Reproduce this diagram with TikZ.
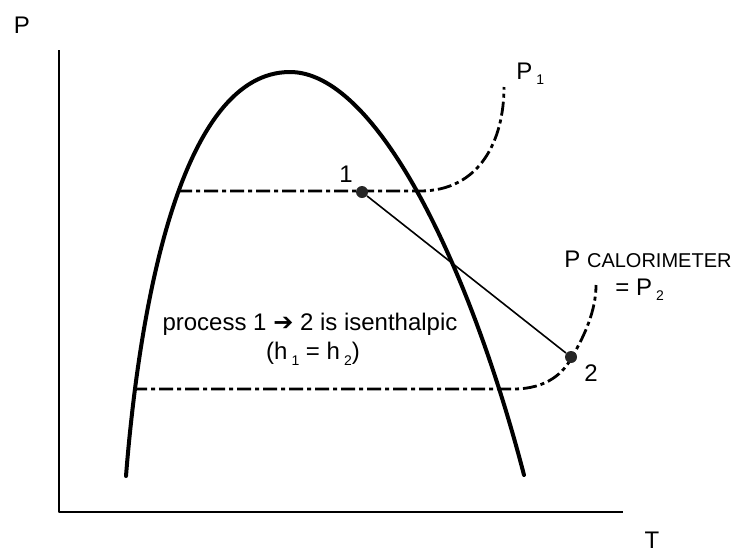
\documentclass[tikz,border=0pt]{standalone}
\usepackage{fontspec}
\setmainfont{Liberation Sans}
\newfontfamily\arrowfont{DejaVu Sans}
\newcommand{\lowsub}[1]{\,\raisebox{-0.45ex}{\fontsize{7}{8}\selectfont #1}}
\begin{document}
\begin{tikzpicture}[x=0.5pt,y=-0.5pt,font=\fontsize{12}{14}\selectfont, line join=round,
	isobar/.style={line width=1.4pt,dash pattern=on 7pt off 2pt on 2pt off 2pt},
	dot/.style={circle,fill=black!85,inner sep=0pt,minimum size=6pt},
	lbl/.style={inner sep=0pt}]
	\useasboundingbox (0,0) rectangle (737,552);
	% axes
	\draw[line width=1.2pt] (59,50)--(59,512)--(623,512);
	\node[lbl] (Plab) at (22,25) {P};
	\node[lbl] (Tlab) at (652,540) {T};
	% saturation dome
	\draw[line width=2pt,line cap=round] (126,476) .. controls (140,300) and (182,72) .. (290,72)
		.. controls (375,72) and (468,260) .. (524,475);
	% isobars
	\draw[isobar] (178,191)--(420,191) .. controls (480,191) and (504,140) .. (504,87);
	\draw[isobar] (133,389)--(513,389) .. controls (548,389) and (564,372) .. (572,357)
		.. controls (585,335) and (596,310) .. (596,285);
	\node[lbl,anchor=base west] (P1lab) at (516,79) {P\lowsub{1}};
	\node[lbl,anchor=base west] (Pcal) at (564,267) {P {\fontsize{10}{12}\selectfont CALORIMETER}};
	\node[lbl,anchor=base west] (Peq) at (615,295) {= P\lowsub{2}};
	% states
	\node[dot] (pt1) at (362,192) {};
	\node[dot] (pt2) at (571,357) {};
	\draw[line width=0.8pt] (pt1)--(pt2);
	\node[lbl] (lab1) at (346,174) {1};
	\node[lbl] (lab2) at (591,373) {2};
	\node[lbl] (proc) at (310,324) {process 1 {\arrowfont ➔} 2 is isenthalpic};
	\node[lbl] (heq) at (313,354) {(h\lowsub{1} = h\lowsub{2})};
\end{tikzpicture}
\end{document}
